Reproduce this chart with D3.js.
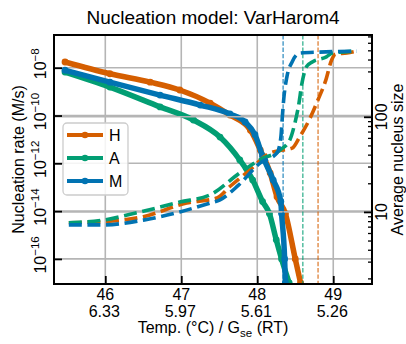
<!DOCTYPE html>
<html>
<head>
<meta charset="utf-8">
<script src="https://cdn.jsdelivr.net/npm/d3@7"></script>
<style>
  body { margin: 0; background: #fff; }
  svg { display: block; font-family: "Liberation Sans", Arial, Helvetica, sans-serif; }
</style>
</head>
<body>
<svg id="chart" width="406" height="344"></svg>
<script>
// ---- data ---------------------------------------------------------------
const seriesNames = ["H", "A", "M"];
const seriesColors = ["#d55e00", "#029e73", "#0173b2"];

// nucleation rate (M/s) vs temperature (°C)
const rateTempH = [45.47, 46.06, 46.59, 46.98, 47.38, 47.64, 47.91, 48.04, 48.17, 48.26, 48.37, 48.50, 48.57];
const rateH     = [1.74e-8, 5.6e-9, 2.5e-9, 1.17e-9, 3.3e-10, 1.05e-10, 2.45e-11, 3.6e-12, 3.9e-13, 4.0e-14, 7.9e-15, 1.0e-16, 1.0e-17];
const rateTempA = [45.47, 46.06, 46.72, 47.16, 47.51, 47.77, 47.94, 48.07, 48.16, 48.25, 48.32, 48.42];
const rateA     = [6.6e-9, 1.55e-9, 2.3e-10, 6.5e-11, 1.26e-11, 1.38e-12, 2.0e-13, 2.5e-14, 7.9e-15, 6.3e-16, 1.0e-16, 1.0e-17];
const rateTempM = [45.47, 46.06, 46.72, 47.25, 47.64, 47.84, 47.97, 48.07, 48.21, 48.31, 48.32, 48.36, 48.37];
const rateM     = [7.9e-9, 2.5e-9, 7.2e-10, 2.75e-10, 1.17e-10, 5.4e-11, 1.58e-11, 2.0e-12, 2.0e-13, 2.5e-14, 7.9e-15, 1.0e-16, 1.0e-17];

// average nucleus size vs temperature (°C)
const sizeTempH = [45.52, 45.97, 46.50, 47.07, 47.47, 47.64, 47.90, 48.17, 48.34, 48.46, 48.56, 48.69, 48.80, 48.90, 48.98, 49.03, 49.18, 49.31];
const sizeH     = [7.7, 7.9, 8.9, 12.4, 14.0, 18.5, 27.5, 41.7, 44.7, 46.8, 61.7, 95, 151, 240, 398, 457, 468, 490];
const sizeTempA = [45.52, 45.97, 46.42, 46.98, 47.38, 47.77, 48.04, 48.30, 48.43, 48.50, 48.54, 48.59, 48.65, 48.73, 48.91, 48.99, 49.31];
const sizeA     = [7.7, 8.2, 9.8, 12.7, 15.1, 25.7, 35.5, 44.7, 57.5, 89, 126, 229, 339, 380, 427, 468, 490];
const sizeTempM = [45.52, 45.97, 46.50, 46.98, 47.38, 47.51, 47.75, 48.04, 48.26, 48.31, 48.33, 48.35, 48.39, 48.46, 48.56, 48.82, 49.31];
const sizeM     = [7.3, 7.3, 8.2, 10.0, 12.4, 13.4, 19.0, 32.8, 41.7, 60.3, 100, 158, 263, 380, 468, 479, 490];

// temperature where each rate curve vanishes (thin dashed markers)
const cutoffTemps = [48.80, 48.60, 48.34];

// ticks
const tempTicks = [46, 47, 48, 49];
const gseTickLabels = ["6.33", "5.97", "5.61", "5.26"];
const rateTickExponents = [-8, -10, -12, -14, -16];
const sizeMajorTicks = [10, 100];
const sizeMinorTicks = [2, 3, 4, 5, 6, 7, 8, 9, 20, 30, 40, 50, 60, 70, 80, 90, 200, 300, 400, 500, 600, 700];

// ---- layout -------------------------------------------------------------
const plot = { left: 54, right: 372, top: 35, bottom: 284 };
const svg = d3.select("#chart");

const x = d3.scaleLinear().domain([45.325, 49.51]).range([plot.left, plot.right]);
const yRate = d3.scaleLog().domain([Math.pow(10, -17.05), Math.pow(10, -6.63)]).range([plot.bottom, plot.top]);
const ySize = d3.scaleLog().domain([Math.pow(10, 0.242), Math.pow(10, 2.86)]).range([plot.bottom, plot.top]);

svg.append("defs").append("clipPath").attr("id", "plotClip")
  .append("rect")
  .attr("x", plot.left).attr("y", plot.top)
  .attr("width", plot.right - plot.left).attr("height", plot.bottom - plot.top);

const gridColor = "#b5b5b5";
const grid = svg.append("g").attr("stroke", gridColor).attr("stroke-width", 1.6);
tempTicks.forEach(t => grid.append("line")
  .attr("x1", x(t)).attr("x2", x(t)).attr("y1", plot.top).attr("y2", plot.bottom));
rateTickExponents.forEach(e => grid.append("line")
  .attr("x1", plot.left).attr("x2", plot.right)
  .attr("y1", yRate(Math.pow(10, e))).attr("y2", yRate(Math.pow(10, e))));

// ---- rate curves (left axis) -------------------------------------------
const rateSets = [[rateTempH, rateH], [rateTempA, rateA], [rateTempM, rateM]];
const plotArea = svg.append("g").attr("clip-path", "url(#plotClip)");

rateSets.forEach(([temps, vals], i) => {
  const pts = temps.map((t, k) => [t, vals[k]]);
  const line = d3.line().x(d => x(d[0])).y(d => yRate(d[1])).curve(d3.curveMonotoneX);
  plotArea.append("path").attr("d", line(pts))
    .attr("fill", "none").attr("stroke", seriesColors[i])
    .attr("stroke-width", 5.5).attr("stroke-linejoin", "round").attr("stroke-linecap", "round");
  plotArea.selectAll(null).data(pts).enter().append("circle")
    .attr("cx", d => x(d[0])).attr("cy", d => yRate(d[1])).attr("r", 3.4)
    .attr("fill", seriesColors[i]);
});

// ---- legend -------------------------------------------------------------
const legend = svg.append("g");
legend.append("rect")
  .attr("x", 63).attr("y", 123).attr("width", 65).attr("height", 72).attr("rx", 4)
  .attr("fill", "#fff").attr("fill-opacity", 0.85)
  .attr("stroke", "#cccccc").attr("stroke-width", 1.3);
seriesNames.forEach((name, i) => {
  const ly = 135 + i * 23;
  legend.append("line").attr("x1", 67).attr("x2", 103).attr("y1", ly).attr("y2", ly)
    .attr("stroke", seriesColors[i]).attr("stroke-width", 4);
  legend.append("circle").attr("cx", 85).attr("cy", ly).attr("r", 3.3).attr("fill", seriesColors[i]);
  legend.append("text").attr("x", 109).attr("y", ly + 6).attr("font-size", 16).text(name);
});

// ---- secondary axis content (right axis) --------------------------------
const grid2 = svg.append("g").attr("stroke", gridColor).attr("stroke-width", 1.6);
sizeMajorTicks.forEach(v => grid2.append("line")
  .attr("x1", plot.left).attr("x2", plot.right).attr("y1", ySize(v)).attr("y2", ySize(v)));

const plotArea2 = svg.append("g").attr("clip-path", "url(#plotClip)");
cutoffTemps.forEach((t, i) => plotArea2.append("line")
  .attr("x1", x(t)).attr("x2", x(t)).attr("y1", plot.top).attr("y2", plot.bottom)
  .attr("stroke", seriesColors[i]).attr("stroke-width", 1.2)
  .attr("stroke-opacity", 0.85).attr("stroke-dasharray", "4.4,1.9"));

const sizeSets = [[sizeTempH, sizeH], [sizeTempA, sizeA], [sizeTempM, sizeM]];
sizeSets.forEach(([temps, vals], i) => {
  const pts = temps.map((t, k) => [t, vals[k]]);
  const line = d3.line().x(d => x(d[0])).y(d => ySize(d[1])).curve(d3.curveMonotoneX);
  plotArea2.append("path").attr("d", line(pts))
    .attr("fill", "none").attr("stroke", seriesColors[i])
    .attr("stroke-width", 3.6).attr("stroke-dasharray", "13,5.6");
});

// ---- axes ----------------------------------------------------------------
function styleAxis(g) {
  g.select(".domain").remove();
  g.selectAll(".tick line").attr("stroke", "#000").attr("stroke-width", 1.8);
  g.selectAll(".tick text").remove();
}

svg.append("g").attr("transform", `translate(0,${plot.bottom})`)
  .call(d3.axisBottom(x).tickValues(tempTicks).tickSize(-8).tickFormat(""))
  .call(styleAxis);
svg.append("g").attr("transform", `translate(${plot.left},0)`)
  .call(d3.axisLeft(yRate).tickValues(rateTickExponents.map(e => Math.pow(10, e))).tickSize(-8).tickFormat(""))
  .call(styleAxis);
svg.append("g").attr("transform", `translate(${plot.right},0)`)
  .call(d3.axisRight(ySize).tickValues(sizeMajorTicks).tickSize(-8).tickFormat(""))
  .call(styleAxis);
svg.append("g").attr("transform", `translate(${plot.right},0)`)
  .call(d3.axisRight(ySize).tickValues(sizeMinorTicks).tickSize(-4).tickFormat(""))
  .call(g => { g.select(".domain").remove();
               g.selectAll(".tick line").attr("stroke", "#000").attr("stroke-width", 1.3);
               g.selectAll(".tick text").remove(); });

// frame
svg.append("rect")
  .attr("x", plot.left).attr("y", plot.top)
  .attr("width", plot.right - plot.left).attr("height", plot.bottom - plot.top)
  .attr("fill", "none").attr("stroke", "#000").attr("stroke-width", 2);

// bottom tick labels: temperature and G_se
tempTicks.forEach((t, i) => {
  svg.append("text").attr("x", x(t)).attr("y", 300).attr("text-anchor", "middle")
    .attr("font-size", 16).text(t);
  svg.append("text").attr("x", x(t) - 1).attr("y", 316.5).attr("text-anchor", "middle")
    .attr("font-size", 16).text(gseTickLabels[i]);
});

// left tick labels: rotated powers of ten
rateTickExponents.forEach(e => {
  const t = svg.append("text")
    .attr("transform", `translate(46,${yRate(Math.pow(10, e)) - 4}) rotate(-90)`)
    .attr("text-anchor", "middle").attr("font-size", 16);
  t.append("tspan").text("10");
  t.append("tspan").attr("dy", -7).attr("font-size", 11.5).text("\u2212" + Math.abs(e));
});

// right tick labels
sizeMajorTicks.forEach(v => {
  svg.append("text")
    .attr("transform", `translate(387,${ySize(v)}) rotate(-90)`)
    .attr("text-anchor", "middle").attr("font-size", 16).text(v);
});

// axis titles
const xLabel = svg.append("text").attr("x", 213).attr("y", 333)
  .attr("text-anchor", "middle").attr("font-size", 16);
xLabel.append("tspan").text("Temp. (°C) / G");
xLabel.append("tspan").attr("dy", 4).attr("font-size", 11.5).text("se");
xLabel.append("tspan").attr("dy", -4).text(" (RT)");

svg.append("text")
  .attr("transform", `translate(24,${(plot.top + plot.bottom) / 2}) rotate(-90)`)
  .attr("text-anchor", "middle").attr("font-size", 16).text("Nucleation rate (M/s)");

svg.append("text")
  .attr("transform", `translate(403,${(plot.top + plot.bottom) / 2}) rotate(-90)`)
  .attr("text-anchor", "middle").attr("font-size", 16).text("Average nucleus size");

// title
svg.append("text").attr("x", 213).attr("y", 24).attr("text-anchor", "middle")
  .attr("font-size", 19).text("Nucleation model: VarHarom4");
</script>
</body>
</html>
